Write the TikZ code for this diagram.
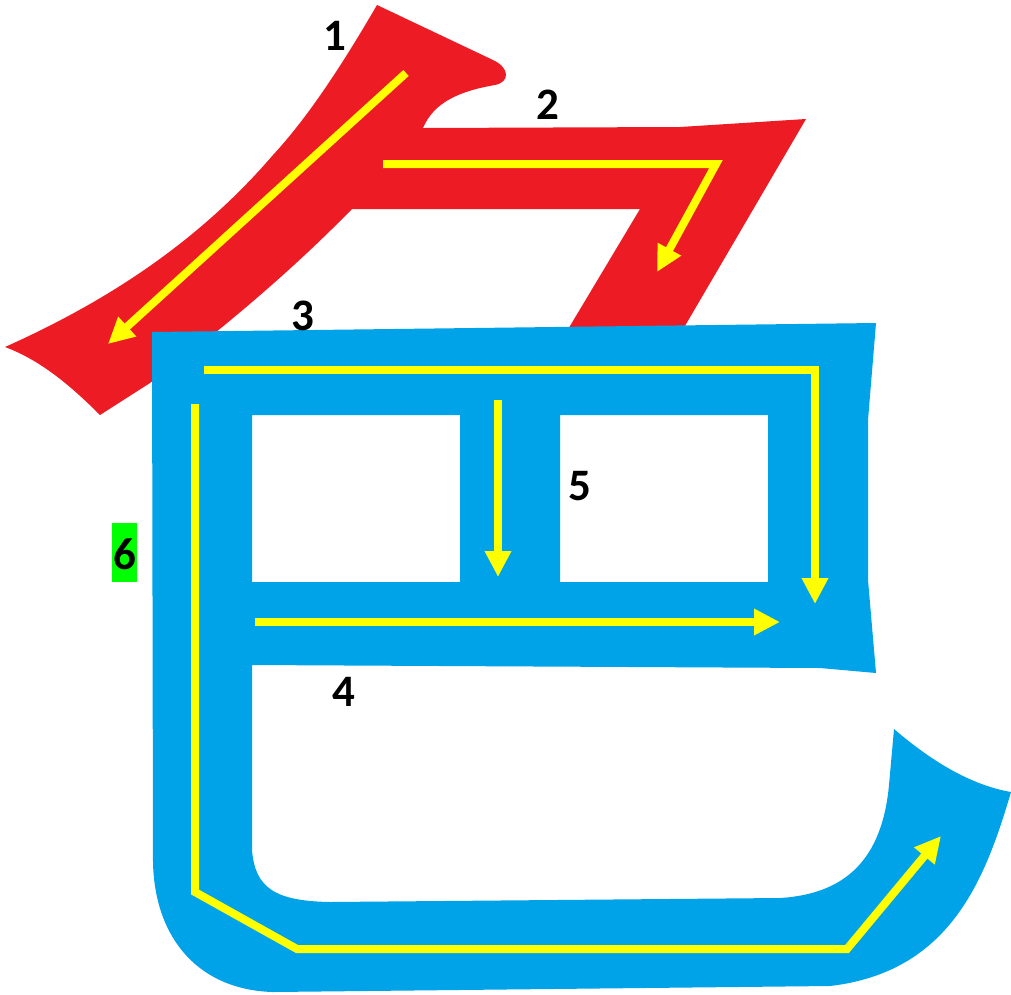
\documentclass[tikz,border=0pt]{standalone}
\usepackage{fontspec}
\setmainfont{Carlito}
\usetikzlibrary{arrows.meta}
\definecolor{strokered}{HTML}{ED1C24}
\definecolor{strokeblue}{HTML}{00A3E8}
\definecolor{arrowyellow}{HTML}{FFFF00}
\definecolor{labelgreen}{HTML}{00FF00}
\tikzset{
  yarrow/.style={draw=arrowyellow, line width=8pt, line join=miter,
    -{Triangle[length=26pt,width=25pt]}},
  yline/.style={draw=arrowyellow, line width=8pt, line join=miter},
  num/.style={font=\fontsize{45pt}{45pt}\selectfont\bfseries, text=black,
    inner sep=0pt, anchor=center},
}
\begin{document}
\begin{tikzpicture}[x=1pt,y=-1pt]
\useasboundingbox (0,0) rectangle (1011,994);
\fill[white] (0,0) rectangle (1011,994);

% red strokes 1 and 2
\fill[strokered]
  (377,5) -- (493,60) .. controls (510,68) and (510,82) .. (495,85)
  .. controls (460,91) and (434,102) .. (423,128)
  -- (680,127) -- (806,119) -- (682,331) -- (567,331) -- (640,209) -- (352,209)
  .. controls (300,262) and (250,305) .. (200,345) -- (150,383) -- (100,415)
  .. controls (70,385) and (40,360) .. (5,347)
  .. controls (110,300) and (200,240) .. (273,155)
  .. controls (310,115) and (345,60) .. (377,5) -- cycle;

% blue strokes 3-6
\fill[strokeblue, even odd rule]
  (152,332) -- (876,323) -- (868,420) -- (868,580) -- (876,673) -- (820,668)
  -- (252,665) -- (252,850) .. controls (255,888) and (275,901) .. (330,902)
  -- (780,898) .. controls (845,894) and (882,860) .. (889,785) -- (894,729)
  .. controls (930,760) and (970,785) .. (1011,792)
  .. controls (985,880) and (950,972) .. (830,986)
  -- (273,992) .. controls (200,990) and (155,940) .. (153,863) -- cycle
  (252,415) rectangle (460,582)
  (560,415) rectangle (768,582);

% stroke order arrows
\coordinate (s1a) at (406,73);  \coordinate (s1b) at (108,344);
\draw[yarrow] (s1a) -- (s1b);

\coordinate (s2a) at (383,164); \coordinate (s2k) at (716,164); \coordinate (s2b) at (657,272);
\draw[yarrow] (s2a) -- (s2k) -- (s2b);

\coordinate (s3a) at (204,370); \coordinate (s3k) at (815,370); \coordinate (s3b) at (815,604);
\draw[yarrow] (s3a) -- (s3k) -- (s3b);

\coordinate (s4a) at (255,622); \coordinate (s4b) at (780,622);
\draw[yarrow] (s4a) -- (s4b);

\coordinate (s5a) at (498,400); \coordinate (s5b) at (498,577);
\draw[yarrow] (s5a) -- (s5b);

\coordinate (s6a) at (195,404); \coordinate (s6k1) at (195,892); \coordinate (s6k2) at (297,949);
\coordinate (s6k3) at (847,949); \coordinate (s6b) at (941,836);
\draw[yarrow] (s6a) -- (s6k1) -- (s6k2) -- (s6k3) -- (s6b);

% labels
\node[num] (n1) at (335,36) {1};
\node[num] (n2) at (548,105) {2};
\node[num] (n3) at (303,316) {3};
\node[num] (n4) at (344,692) {4};
\node[num] (n5) at (580,486) {5};
\fill[labelgreen] (112,523) rectangle (137,582);
\node[num] (n6) at (124.5,554) {6};
\end{tikzpicture}
\end{document}
